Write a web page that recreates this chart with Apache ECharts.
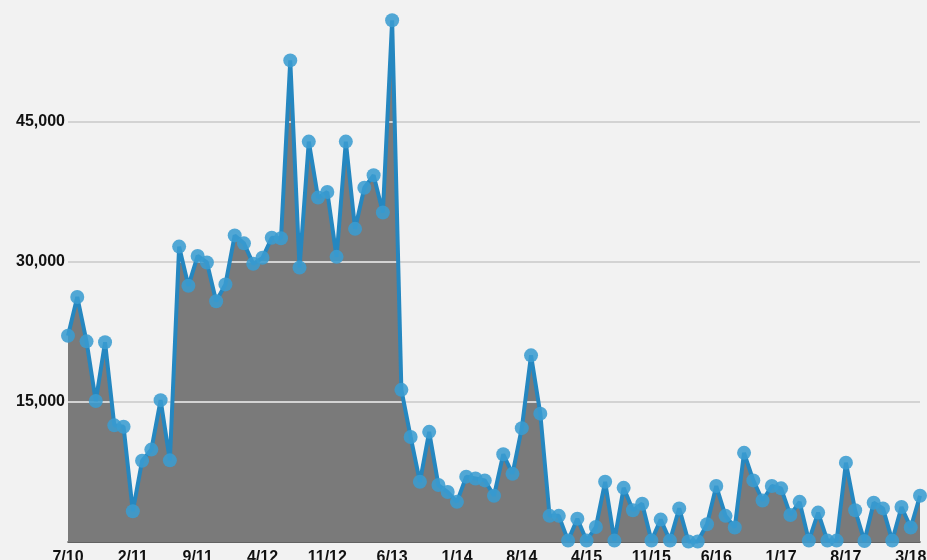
<!DOCTYPE html>
<html>
<head>
<meta charset="utf-8">
<script src="https://cdn.jsdelivr.net/npm/echarts@6/dist/echarts.min.js"></script>
<style>
html,body{margin:0;padding:0;background:#f2f2f2;}
#chart{width:927px;height:560px;}
</style>
</head>
<body>
<div id="chart"></div>
<script>
// Monthly values, 7/10 .. 3/18 (+1)
const values = [
  22100, 26250, 21500, 15100, 21400, 12500, 12350, 3300, 8700, 9900,
  15200, 8750, 31650, 27450, 30650, 29950, 25800, 27600, 32850, 32000,
  29800, 30450, 32600, 32550, 51600, 29400, 42900, 36900, 37500, 30550,
  42900, 33550, 37950, 39300, 35300, 55900, 16300, 11250, 6450, 11800,
  6100, 5350, 4300, 7000, 6800, 6600, 4950, 9400, 7300, 12200,
  20000, 13750, 2800, 2800, 150, 2500, 150, 1600, 6450, 150,
  5800, 3400, 4100, 150, 2400, 150, 3600, 50, 50, 1900,
  6000, 2800, 1550, 9550, 6600, 4450, 6000, 5750, 2900, 4300,
  150, 3150, 150, 150, 8500, 3400, 100, 4200, 3600, 150,
  3750, 1550, 4950
];
// x tick labels, one every 7 points
const tickLabels = ['7/10','2/11','9/11','4/12','11/12','6/13','1/14','8/14','4/15','11/15','6/16','1/17','8/17','3/18'];
// y gridline values
const gridValues = [15000, 30000, 45000];

const categories = values.map((_, i) => i);

const chart = echarts.init(document.getElementById('chart'), null, {renderer: 'canvas'});
chart.setOption({
  backgroundColor: '#f2f2f2',
  animation: false,
  grid: {left: 68, right: 7, top: -18, bottom: 18, containLabel: false, outerBoundsMode: 'none'},
  xAxis: {
    type: 'category',
    data: categories,
    boundaryGap: false,
    axisLine: {show: true, lineStyle: {color: '#333', width: 1.5}},
    axisTick: {show: false},
    axisLabel: {
      interval: 6,
      margin: 8,
      color: '#111',
      fontFamily: 'Liberation Sans, Arial, sans-serif',
      fontWeight: 'bold',
      fontSize: 16,
      formatter: (v, i) => (i % 7 === 0 && tickLabels[i / 7]) ? tickLabels[i / 7] : ''
    },
    splitLine: {show: false}
  },
  yAxis: {
    type: 'value',
    min: 0,
    max: 60000,
    interval: 15000,
    axisLine: {show: false},
    axisTick: {show: false},
    splitLine: {show: false},
    axisLabel: {
      margin: 3,
      color: '#111',
      fontFamily: 'Liberation Sans, Arial, sans-serif',
      fontWeight: 'bold',
      fontSize: 16,
      formatter: v => v === 0 ? '' : v.toLocaleString('en-US')
    }
  },
  series: [
    {
      type: 'line',
      data: values,
      symbol: 'none',
      lineStyle: {width: 0},
      areaStyle: {color: '#7a7a7a', opacity: 1},
      z: 1,
      silent: true,
      markLine: {
        silent: true,
        symbol: 'none',
        z: 5,
        label: {show: false},
        lineStyle: {color: '#d3d3d3', width: 2, type: 'solid'},
        data: gridValues.map(v => ({yAxis: v}))
      }
    },
    {
      type: 'line',
      data: values,
      symbol: 'circle',
      symbolSize: 14,
      showSymbol: true,
      showAllSymbol: true,
      z: 10,
      lineStyle: {color: '#2587c0', width: 4},
      itemStyle: {color: 'rgba(58,156,208,0.88)'}
    }
  ]
});
</script>
</body>
</html>
